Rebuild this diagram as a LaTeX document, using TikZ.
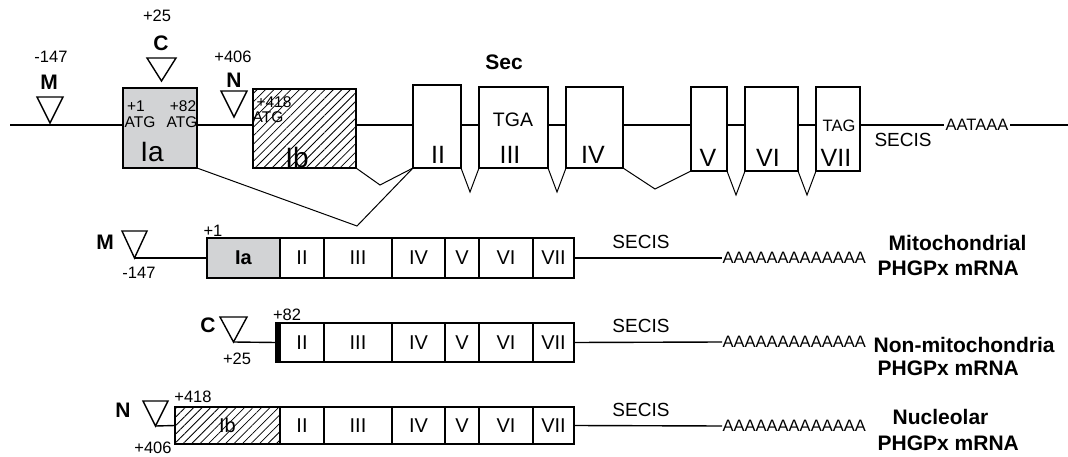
\documentclass[tikz,border=0pt]{standalone}
\usepackage{fontspec}
\setmainfont{Liberation Sans}
\usetikzlibrary{positioning,patterns.meta,calc}
\definecolor{exongray}{RGB}{210,211,213}

\begin{document}
\begin{tikzpicture}[x=1pt,y=-1pt,line width=1.4pt]
  \tikzstyle{exon}=[draw,fill=white,inner sep=0pt,outer sep=0pt]
  \tikzstyle{hatchbox}=[preaction={fill=white},pattern={Lines[angle=45,distance=6pt,line width=.8pt]}]
  \tikzstyle{rexon}=[exon,font=\fontsize{20}{22}\selectfont]
  \tikzstyle{numeral}=[inner sep=0pt,font=\fontsize{25}{27}\selectfont]
  \tikzstyle{bigtxt}=[inner sep=0pt,font=\fontsize{28}{30}\selectfont]
  \tikzstyle{smalltxt}=[inner sep=0pt,font=\fontsize{16.5}{18}\selectfont]
  \tikzstyle{tinytxt}=[inner sep=0pt,font=\fontsize{15.5}{17}\selectfont]
  \tikzstyle{promtxt}=[inner sep=0pt,font=\bfseries\fontsize{21}{23}\selectfont]
  \tikzstyle{mrnatxt}=[inner sep=0pt,anchor=west,font=\bfseries\fontsize{21}{23}\selectfont]
  \tikzstyle{splice}=[line width=1pt]

  \fill[white] (0,0) rectangle (1068,457);
  \useasboundingbox (0,0) rectangle (1068,457);

  % gene
  \coordinate (g-start) at (10,125);
  \coordinate (g-end) at (1068,125);
  \draw (g-start) -- (g-end);

  \node[exon,fill=exongray,minimum width=74,minimum height=80] (g-Ia) at (160,128) {};
  \node[exon,hatchbox,minimum width=103,minimum height=79] (g-Ib) at (304.5,128.5) {};
  \foreach \n/\a/\b/\t/\u in {II/413/461/85/168,III/479/548/87/168,IV/566/623/87/168,
                              V/691/727/87/171,VI/745/798/87/171,VII/816/860/87/171}
    \node[exon,minimum width={\b-\a},minimum height={\u-\t}] (g-\n) at ({(\a+\b)/2},{(\t+\u)/2}) {};

  \node[tinytxt] at (136,106) {+1};
  \node[tinytxt] at (183,106) {+82};
  \node[tinytxt] at (140,122) {ATG};
  \node[tinytxt] at (182,122) {ATG};
  \node[bigtxt] at (152,152) {Ia};
  \node[tinytxt] at (274,102) {+418};
  \node[tinytxt] at (268,117) {ATG};
  \node[bigtxt] at (297,157) {Ib};

  \node[numeral] at (438,155) {II};
  \node[numeral] at (510,155) {III};
  \node[numeral] at (593,155) {IV};
  \node[numeral] at (708,158) {V};
  \node[numeral] at (768,158) {VI};
  \node[numeral] at (836,158) {VII};
  \node[inner sep=0pt,font=\fontsize{19.5}{21}\selectfont] at (513,120) {TGA};
  \node[smalltxt] at (839,126) {TAG};
  \node[promtxt] at (504,62) {Sec};
  \node[inner sep=0pt,font=\fontsize{19}{21}\selectfont] at (903,140) {SECIS};
  \node[smalltxt,fill=white,inner sep=2pt] (g-pa) at (977,125) {AATAAA};

  % splicing
  \foreach \a/\b in {II/III,III/IV,V/VI,VI/VII}
    \draw[splice] (g-\a.south east) -- ($(g-\a.south east)!.5!(g-\b.south west)+(0,24)$) -- (g-\b.south west);
  \draw[splice] (g-IV.south east) -- (655,189) -- (g-V.south west);
  \draw[splice] (g-Ib.south east) -- (380,185) -- (g-II.south west);
  \draw[splice] (g-Ia.south east) -- (357,226) -- (g-II.south west);

  % promoters
  \coordinate (g-M) at (50,123);
  \coordinate (g-C) at (161.5,81);
  \coordinate (g-N) at (234,117);
  \draw[fill=white] (g-M) -- ++(-13,-26) -- ++(26,0) -- cycle;
  \draw[fill=white] (g-C) -- ++(-14.5,-23) -- ++(29,0) -- cycle;
  \draw[fill=white] (g-N) -- ++(-13,-26) -- ++(26,0) -- cycle;
  \node[smalltxt] at (51,57) {-147};
  \node[promtxt] at (49,82) {M};
  \node[smalltxt] at (157,16) {+25};
  \node[promtxt] at (161,43) {C};
  \node[smalltxt] at (233,57) {+406};
  \node[promtxt] at (234,80) {N};

  % transcripts
  \foreach \r/\yc/\h in {1/258/40,2/342.5/39,3/425.5/37}
    \foreach \n/\a/\b in {II/280/324,III/324/392,IV/392/445,V/445/479,VI/479/533,VII/533/574}
      \node[rexon,minimum width={\b-\a},minimum height=\h] (r\r-\n) at ({(\a+\b)/2},\yc) {\n};

  \node[rexon,fill=exongray,font=\bfseries\fontsize{20}{22}\selectfont,minimum width=73,minimum height=40] (r1-Ia) at (243.5,258) {Ia};
  \node[exon,fill=black,minimum width=4,minimum height=39] (r2-s) at (278,342.5) {};
  \node[exon,hatchbox,minimum width=105,minimum height=37] (r3-Ib) at (227.5,425.5) {};
  \node[inner sep=0pt,font=\fontsize{20}{22}\selectfont] at (227.5,425.5) {Ib};

  \coordinate (r1-p) at (134.5,258);
  \coordinate (r2-p) at (233.5,342);
  \coordinate (r3-p) at (155.5,426);
  \draw (r1-p) -- (r1-Ia.west);
  \draw (r2-p) -- (r2-s.west);
  \draw (r3-p) -- (r3-Ib.west);
  \draw[fill=white] (r1-p) -- ++(-12.5,-27) -- ++(25,0) -- cycle;
  \draw[fill=white] (r2-p) -- ++(-13.5,-25) -- ++(27,0) -- cycle;
  \draw[fill=white] (r3-p) -- ++(-12.5,-25) -- ++(25,0) -- cycle;

  \node[promtxt] at (105,242) {M};
  \node[smalltxt] at (139,273) {-147};
  \node[smalltxt] at (213,231) {+1};
  \node[promtxt] at (208,325) {C};
  \node[smalltxt] at (237,359) {+25};
  \node[smalltxt] at (287,315) {+82};
  \node[promtxt] at (123,410) {N};
  \node[smalltxt] at (193,397) {+418};
  \node[smalltxt] at (153,448) {+406};

  \foreach \r/\yc in {1/258,2/342,3/426} {
    \node[tinytxt,anchor=west,font=\fontsize{16.5}{18}\selectfont] (r\r-pa) at (722,\yc) {AAAAAAAAAAAAA};
    \draw (r\r-VII.east) -- (r\r-pa.west);
    \node[inner sep=0pt,font=\fontsize{19}{21}\selectfont] at (641,\yc-16) {SECIS};
  }

  \node[mrnatxt] at (888,243) {Mitochondrial};
  \node[mrnatxt] at (877,268) {PHGPx mRNA};
  \node[mrnatxt] at (873,345) {Non-mitochondria};
  \node[mrnatxt] at (877,368) {PHGPx mRNA};
  \node[mrnatxt] at (892,417) {Nucleolar};
  \node[mrnatxt] at (877,443) {PHGPx mRNA};
\end{tikzpicture}
\end{document}
